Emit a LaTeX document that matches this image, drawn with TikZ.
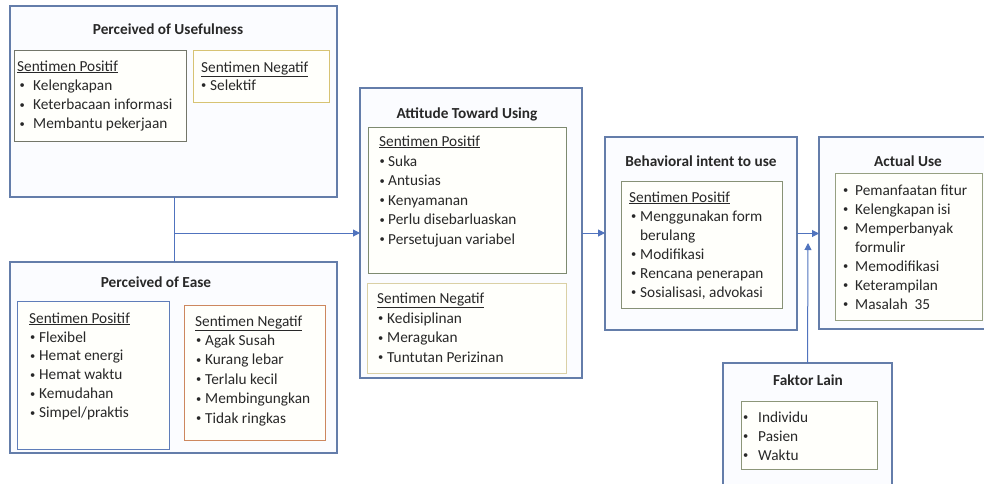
\documentclass[tikz,border=0pt]{standalone}
\usepackage{fontspec}
\setmainfont{Carlito}
\usetikzlibrary{arrows.meta}
\definecolor{outerc}{RGB}{100,125,170}
\definecolor{outerfill}{RGB}{251,252,255}
\definecolor{innerfill}{RGB}{255,255,251}
\definecolor{pupc}{RGB}{115,118,105}
\definecolor{punc}{RGB}{215,195,115}
\definecolor{pepc}{RGB}{95,125,185}
\definecolor{penc}{RGB}{205,135,95}
\definecolor{atpc}{RGB}{125,138,112}
\definecolor{atnc}{RGB}{218,208,165}
\definecolor{behc}{RGB}{135,145,118}
\definecolor{actc}{RGB}{150,160,130}
\definecolor{fakc}{RGB}{140,150,120}
\definecolor{connc}{RGB}{80,115,190}
\definecolor{txtc}{RGB}{40,40,40}
\tikzset{
  outerbox/.style={draw=outerc, line width=1.3pt, fill=outerfill, anchor=north west, inner sep=0pt, outer sep=0pt},
  innerbox/.style={line width=1pt, fill=innerfill, anchor=north west, inner sep=0pt, outer sep=0pt},
  ttl/.style={anchor=base, inner sep=0pt, text=txtc, font=\bfseries\fontsize{15.3}{18}\selectfont},
  txt/.style={anchor=base west, inner sep=0pt, text=txtc, font=\fontsize{15.3}{18}\selectfont},
  conn/.style={draw=connc, line width=1pt},
  arr/.style={conn, -{Triangle[length=7pt,width=7pt]}},
}
\newcommand\smbul{\raisebox{1.2pt}{\fontsize{10.5}{10.5}\selectfont •}}
\newcommand\mylist[6]{%
  \foreach \b/\t [count=\i] in {#6} {\node[txt] (#1\i) at (#2, {#3+#4*(\i-1)}) {\makebox[#5pt][l]{\b}\t};}}
\begin{document}
\begin{tikzpicture}[x=1pt,y=-1pt]
\clip (0,0) rectangle (984,483);
% Perceived of Usefulness
\node[outerbox, minimum width=327pt, minimum height=191pt] (pu) at (10,6) {};
\node[ttl] (put) at (168,34) {Perceived of Usefulness};
\node[innerbox, draw=pupc, minimum width=172pt, minimum height=91pt] (pup) at (14,50) {};
\node[txt] (puph) at (17,71) {\underline{Sentimen Positif}};
\mylist{pupi}{19.5}{90}{19.3}{13.5}{\smbul/Kelengkapan, \smbul/Keterbacaan informasi, \smbul/Membantu pekerjaan}
\node[innerbox, draw=punc, minimum width=136pt, minimum height=52pt] (pun) at (193,50) {};
\node[txt] (punh) at (201,72) {\underline{Sentimen Negatif}};
\mylist{puni}{201}{90}{19.3}{9}{\smbul/Selektif}
% Perceived of Ease
\node[outerbox, minimum width=327pt, minimum height=191pt] (pe) at (10,262) {};
\node[ttl] (pet) at (156,287) {Perceived of Ease};
\node[innerbox, draw=pepc, minimum width=152pt, minimum height=148pt] (pep) at (17,301) {};
\node[txt] (peph) at (29,323) {\underline{Sentimen Positif}};
\mylist{pepi}{30}{342}{18.8}{9}{\smbul/Flexibel, \smbul/Hemat energi, \smbul/Hemat waktu, \smbul/Kemudahan, \smbul/Simpel\slash praktis}
\node[innerbox, draw=penc, minimum width=141pt, minimum height=135pt] (pen) at (184,305) {};
\node[txt] (penh) at (195,326) {\underline{Sentimen Negatif}};
\mylist{peni}{196}{345}{19.5}{9}{\smbul/Agak Susah, \smbul/Kurang lebar, \smbul/Terlalu kecil, \smbul/Membingungkan, \smbul/Tidak ringkas}
% Attitude Toward Using
\node[outerbox, minimum width=222pt, minimum height=290pt] (att) at (360,88) {};
\node[ttl] (attt) at (467,118) {Attitude Toward Using};
\node[innerbox, draw=atpc, minimum width=198pt, minimum height=146pt] (atp) at (368,127) {};
\node[txt] (atph) at (379,146) {\underline{Sentimen Positif}};
\mylist{atpi}{379.5}{166}{19.5}{8.5}{\smbul/Suka, \smbul/Antusias, \smbul/Kenyamanan, \smbul/Perlu disebarluaskan, \smbul/Persetujuan variabel}
\node[innerbox, draw=atnc, minimum width=199pt, minimum height=90pt] (atn) at (367,283) {};
\node[txt] (atnh) at (377,303) {\underline{Sentimen Negatif}};
\mylist{atni}{378}{323}{19.5}{9}{\smbul/Kedisiplinan, \smbul/Meragukan, \smbul/Tuntutan Perizinan}
% Behavioral intent to use
\node[outerbox, minimum width=192pt, minimum height=193pt] (beh) at (605,137) {};
\node[ttl] (beht) at (701,166) {Behavioral intent to use};
\node[innerbox, draw=behc, minimum width=161pt, minimum height=127pt] (behp) at (621,181) {};
\node[txt] (behh) at (629,202) {\underline{Sentimen Positif}};
\mylist{behi}{631}{221}{19}{9}{\smbul/Menggunakan form, /berulang, \smbul/Modifikasi, \smbul/Rencana penerapan, {\smbul/Sosialisasi, advokasi}}
% Actual Use
\node[outerbox, minimum width=180pt, minimum height=192pt] (act) at (819,137) {};
\node[ttl] (actt) at (908,166) {Actual Use};
\node[innerbox, draw=actc, minimum width=147pt, minimum height=147pt] (actp) at (835,173) {};
\mylist{acti}{843}{195}{19}{12}{\smbul/Pemanfaatan fitur, \smbul/Kelengkapan isi, \smbul/Memperbanyak, /formulir, \smbul/Memodifikasi, \smbul/Keterampilan, \smbul/Masalah~ 35}
% Faktor Lain
\node[outerbox, minimum width=169pt, minimum height=125pt] (fak) at (723,363) {};
\node[ttl] (fakt) at (808,385) {Faktor Lain};
\node[innerbox, draw=fakc, minimum width=136pt, minimum height=68pt] (fakp) at (741,401) {};
\mylist{faki}{743}{422}{19}{15}{\smbul/Individu, \smbul/Pasien, \smbul/Waktu}
% connectors
\coordinate (j) at (174,233);
\draw[conn] (pu.south -| j) -- (pe.north -| j);
\draw[arr] (j) -- (att.west |- j);
\draw[arr] (att.east) -- (att.east -| beh.west);
\draw[arr] (beh.east) -- (beh.east -| act.west);
\coordinate (ft) at (808,243);
\draw[arr] (fak.north) -- (ft);
\end{tikzpicture}
\end{document}
